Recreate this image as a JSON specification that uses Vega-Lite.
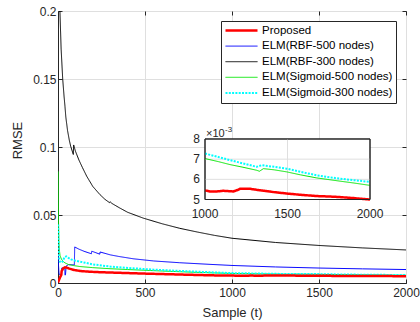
{
  "$schema": "https://vega.github.io/schema/vega-lite/v6.json",
  "width": 348,
  "height": 272,
  "autosize": {"type": "none"},
  "padding": {"left": 58, "top": 11, "right": 14, "bottom": 39},
  "background": "white",
  "config": {
    "view": {"stroke": "#262626", "strokeWidth": 1},
    "font": "Liberation Sans",
    "axis": {
      "labelFont": "Liberation Sans",
      "titleFont": "Liberation Sans",
      "labelColor": "#262626",
      "titleColor": "#262626",
      "tickColor": "#262626",
      "domainColor": "#262626",
      "gridColor": "#dfdfdf",
      "labelFontSize": 12,
      "titleFontSize": 13,
      "titleFontWeight": "normal",
      "labelFlush": false,
      "labelOverlap": false
    },
    "legend": {
      "labelFont": "Liberation Sans",
      "labelFontSize": 11.5,
      "labelColor": "#000000"
    }
  },
  "datasets": {
    "rmse": [
      {"s": "ELM(RBF-300 nodes)", "t": 1, "v": 0.42},
      {"s": "ELM(RBF-300 nodes)", "t": 4, "v": 0.29},
      {"s": "ELM(RBF-300 nodes)", "t": 8, "v": 0.225},
      {"s": "ELM(RBF-300 nodes)", "t": 11, "v": 0.2},
      {"s": "ELM(RBF-300 nodes)", "t": 18, "v": 0.172},
      {"s": "ELM(RBF-300 nodes)", "t": 27, "v": 0.15},
      {"s": "ELM(RBF-300 nodes)", "t": 35, "v": 0.137},
      {"s": "ELM(RBF-300 nodes)", "t": 40, "v": 0.13},
      {"s": "ELM(RBF-300 nodes)", "t": 45, "v": 0.122},
      {"s": "ELM(RBF-300 nodes)", "t": 55, "v": 0.112},
      {"s": "ELM(RBF-300 nodes)", "t": 65, "v": 0.105},
      {"s": "ELM(RBF-300 nodes)", "t": 73, "v": 0.1005},
      {"s": "ELM(RBF-300 nodes)", "t": 88, "v": 0.0945},
      {"s": "ELM(RBF-300 nodes)", "t": 90, "v": 0.1015},
      {"s": "ELM(RBF-300 nodes)", "t": 100, "v": 0.097},
      {"s": "ELM(RBF-300 nodes)", "t": 120, "v": 0.0905},
      {"s": "ELM(RBF-300 nodes)", "t": 140, "v": 0.085},
      {"s": "ELM(RBF-300 nodes)", "t": 165, "v": 0.0785},
      {"s": "ELM(RBF-300 nodes)", "t": 200, "v": 0.071},
      {"s": "ELM(RBF-300 nodes)", "t": 241, "v": 0.065},
      {"s": "ELM(RBF-300 nodes)", "t": 270, "v": 0.0615},
      {"s": "ELM(RBF-300 nodes)", "t": 297, "v": 0.059},
      {"s": "ELM(RBF-300 nodes)", "t": 300, "v": 0.0597},
      {"s": "ELM(RBF-300 nodes)", "t": 310, "v": 0.0585},
      {"s": "ELM(RBF-300 nodes)", "t": 350, "v": 0.0555},
      {"s": "ELM(RBF-300 nodes)", "t": 400, "v": 0.052},
      {"s": "ELM(RBF-300 nodes)", "t": 490, "v": 0.0477},
      {"s": "ELM(RBF-300 nodes)", "t": 600, "v": 0.0435},
      {"s": "ELM(RBF-300 nodes)", "t": 700, "v": 0.0402},
      {"s": "ELM(RBF-300 nodes)", "t": 800, "v": 0.0375},
      {"s": "ELM(RBF-300 nodes)", "t": 900, "v": 0.035},
      {"s": "ELM(RBF-300 nodes)", "t": 1000, "v": 0.0329},
      {"s": "ELM(RBF-300 nodes)", "t": 1250, "v": 0.0298},
      {"s": "ELM(RBF-300 nodes)", "t": 1500, "v": 0.0276},
      {"s": "ELM(RBF-300 nodes)", "t": 1750, "v": 0.0258},
      {"s": "ELM(RBF-300 nodes)", "t": 2000, "v": 0.0243},

      {"s": "ELM(RBF-500 nodes)", "t": 1, "v": 0.021},
      {"s": "ELM(RBF-500 nodes)", "t": 3, "v": 0.013},
      {"s": "ELM(RBF-500 nodes)", "t": 6, "v": 0.0065},
      {"s": "ELM(RBF-500 nodes)", "t": 20, "v": 0.0058},
      {"s": "ELM(RBF-500 nodes)", "t": 21, "v": 0.011},
      {"s": "ELM(RBF-500 nodes)", "t": 39, "v": 0.011},
      {"s": "ELM(RBF-500 nodes)", "t": 40, "v": 0.0058},
      {"s": "ELM(RBF-500 nodes)", "t": 43, "v": 0.006},
      {"s": "ELM(RBF-500 nodes)", "t": 47, "v": 0.0125},
      {"s": "ELM(RBF-500 nodes)", "t": 60, "v": 0.0135},
      {"s": "ELM(RBF-500 nodes)", "t": 80, "v": 0.0134},
      {"s": "ELM(RBF-500 nodes)", "t": 94, "v": 0.0133},
      {"s": "ELM(RBF-500 nodes)", "t": 96, "v": 0.0265},
      {"s": "ELM(RBF-500 nodes)", "t": 120, "v": 0.0249},
      {"s": "ELM(RBF-500 nodes)", "t": 150, "v": 0.0233},
      {"s": "ELM(RBF-500 nodes)", "t": 192, "v": 0.0215},
      {"s": "ELM(RBF-500 nodes)", "t": 194, "v": 0.0234},
      {"s": "ELM(RBF-500 nodes)", "t": 240, "v": 0.0212},
      {"s": "ELM(RBF-500 nodes)", "t": 242, "v": 0.0228},
      {"s": "ELM(RBF-500 nodes)", "t": 300, "v": 0.0207},
      {"s": "ELM(RBF-500 nodes)", "t": 350, "v": 0.0195},
      {"s": "ELM(RBF-500 nodes)", "t": 433, "v": 0.0178},
      {"s": "ELM(RBF-500 nodes)", "t": 550, "v": 0.0162},
      {"s": "ELM(RBF-500 nodes)", "t": 700, "v": 0.0149},
      {"s": "ELM(RBF-500 nodes)", "t": 874, "v": 0.0137},
      {"s": "ELM(RBF-500 nodes)", "t": 1000, "v": 0.0129},
      {"s": "ELM(RBF-500 nodes)", "t": 1250, "v": 0.0118},
      {"s": "ELM(RBF-500 nodes)", "t": 1500, "v": 0.011},
      {"s": "ELM(RBF-500 nodes)", "t": 1750, "v": 0.0104},
      {"s": "ELM(RBF-500 nodes)", "t": 2000, "v": 0.0099},

      {"s": "ELM(Sigmoid-500 nodes)", "t": 1, "v": 0.082},
      {"s": "ELM(Sigmoid-500 nodes)", "t": 2, "v": 0.06},
      {"s": "ELM(Sigmoid-500 nodes)", "t": 3, "v": 0.045},
      {"s": "ELM(Sigmoid-500 nodes)", "t": 5, "v": 0.031},
      {"s": "ELM(Sigmoid-500 nodes)", "t": 8, "v": 0.024},
      {"s": "ELM(Sigmoid-500 nodes)", "t": 12, "v": 0.02},
      {"s": "ELM(Sigmoid-500 nodes)", "t": 20, "v": 0.0175},
      {"s": "ELM(Sigmoid-500 nodes)", "t": 30, "v": 0.0158},
      {"s": "ELM(Sigmoid-500 nodes)", "t": 40, "v": 0.0148},
      {"s": "ELM(Sigmoid-500 nodes)", "t": 60, "v": 0.0136},
      {"s": "ELM(Sigmoid-500 nodes)", "t": 90, "v": 0.0128},
      {"s": "ELM(Sigmoid-500 nodes)", "t": 126, "v": 0.0121},
      {"s": "ELM(Sigmoid-500 nodes)", "t": 200, "v": 0.0113},
      {"s": "ELM(Sigmoid-500 nodes)", "t": 300, "v": 0.0105},
      {"s": "ELM(Sigmoid-500 nodes)", "t": 400, "v": 0.0099},
      {"s": "ELM(Sigmoid-500 nodes)", "t": 490, "v": 0.0094},
      {"s": "ELM(Sigmoid-500 nodes)", "t": 600, "v": 0.0088},
      {"s": "ELM(Sigmoid-500 nodes)", "t": 700, "v": 0.0083},
      {"s": "ELM(Sigmoid-500 nodes)", "t": 800, "v": 0.0078},
      {"s": "ELM(Sigmoid-500 nodes)", "t": 900, "v": 0.0074},
      {"s": "ELM(Sigmoid-500 nodes)", "t": 1000, "v": 0.00703},
      {"s": "ELM(Sigmoid-500 nodes)", "t": 1080, "v": 0.00688},
      {"s": "ELM(Sigmoid-500 nodes)", "t": 1152, "v": 0.00673},
      {"s": "ELM(Sigmoid-500 nodes)", "t": 1230, "v": 0.0066},
      {"s": "ELM(Sigmoid-500 nodes)", "t": 1313, "v": 0.00645},
      {"s": "ELM(Sigmoid-500 nodes)", "t": 1330, "v": 0.0064},
      {"s": "ELM(Sigmoid-500 nodes)", "t": 1354, "v": 0.00653},
      {"s": "ELM(Sigmoid-500 nodes)", "t": 1420, "v": 0.00647},
      {"s": "ELM(Sigmoid-500 nodes)", "t": 1495, "v": 0.00637},
      {"s": "ELM(Sigmoid-500 nodes)", "t": 1580, "v": 0.00622},
      {"s": "ELM(Sigmoid-500 nodes)", "t": 1677, "v": 0.00607},
      {"s": "ELM(Sigmoid-500 nodes)", "t": 1800, "v": 0.00593},
      {"s": "ELM(Sigmoid-500 nodes)", "t": 1900, "v": 0.00582},
      {"s": "ELM(Sigmoid-500 nodes)", "t": 2000, "v": 0.0057},

      {"s": "ELM(Sigmoid-300 nodes)", "t": 1, "v": 0.043},
      {"s": "ELM(Sigmoid-300 nodes)", "t": 2, "v": 0.033},
      {"s": "ELM(Sigmoid-300 nodes)", "t": 3, "v": 0.026},
      {"s": "ELM(Sigmoid-300 nodes)", "t": 5, "v": 0.02},
      {"s": "ELM(Sigmoid-300 nodes)", "t": 8, "v": 0.0165},
      {"s": "ELM(Sigmoid-300 nodes)", "t": 12, "v": 0.0155},
      {"s": "ELM(Sigmoid-300 nodes)", "t": 20, "v": 0.015},
      {"s": "ELM(Sigmoid-300 nodes)", "t": 28, "v": 0.016},
      {"s": "ELM(Sigmoid-300 nodes)", "t": 37, "v": 0.019},
      {"s": "ELM(Sigmoid-300 nodes)", "t": 48, "v": 0.0196},
      {"s": "ELM(Sigmoid-300 nodes)", "t": 60, "v": 0.0185},
      {"s": "ELM(Sigmoid-300 nodes)", "t": 75, "v": 0.0174},
      {"s": "ELM(Sigmoid-300 nodes)", "t": 100, "v": 0.0164},
      {"s": "ELM(Sigmoid-300 nodes)", "t": 126, "v": 0.0157},
      {"s": "ELM(Sigmoid-300 nodes)", "t": 200, "v": 0.0137},
      {"s": "ELM(Sigmoid-300 nodes)", "t": 300, "v": 0.0121},
      {"s": "ELM(Sigmoid-300 nodes)", "t": 433, "v": 0.0108},
      {"s": "ELM(Sigmoid-300 nodes)", "t": 550, "v": 0.0098},
      {"s": "ELM(Sigmoid-300 nodes)", "t": 700, "v": 0.0089},
      {"s": "ELM(Sigmoid-300 nodes)", "t": 874, "v": 0.0079},
      {"s": "ELM(Sigmoid-300 nodes)", "t": 1000, "v": 0.00728},
      {"s": "ELM(Sigmoid-300 nodes)", "t": 1080, "v": 0.00711},
      {"s": "ELM(Sigmoid-300 nodes)", "t": 1152, "v": 0.00695},
      {"s": "ELM(Sigmoid-300 nodes)", "t": 1230, "v": 0.00679},
      {"s": "ELM(Sigmoid-300 nodes)", "t": 1313, "v": 0.00662},
      {"s": "ELM(Sigmoid-300 nodes)", "t": 1343, "v": 0.0067},
      {"s": "ELM(Sigmoid-300 nodes)", "t": 1420, "v": 0.00662},
      {"s": "ELM(Sigmoid-300 nodes)", "t": 1495, "v": 0.00653},
      {"s": "ELM(Sigmoid-300 nodes)", "t": 1580, "v": 0.00637},
      {"s": "ELM(Sigmoid-300 nodes)", "t": 1677, "v": 0.0062},
      {"s": "ELM(Sigmoid-300 nodes)", "t": 1800, "v": 0.00605},
      {"s": "ELM(Sigmoid-300 nodes)", "t": 1900, "v": 0.00596},
      {"s": "ELM(Sigmoid-300 nodes)", "t": 2000, "v": 0.00587},

      {"s": "Proposed", "t": 0, "v": 0.0003},
      {"s": "Proposed", "t": 5, "v": 0.002},
      {"s": "Proposed", "t": 12, "v": 0.0042},
      {"s": "Proposed", "t": 19, "v": 0.006},
      {"s": "Proposed", "t": 21, "v": 0.0088},
      {"s": "Proposed", "t": 30, "v": 0.0108},
      {"s": "Proposed", "t": 40, "v": 0.0116},
      {"s": "Proposed", "t": 50, "v": 0.0113},
      {"s": "Proposed", "t": 65, "v": 0.0106},
      {"s": "Proposed", "t": 80, "v": 0.01},
      {"s": "Proposed", "t": 100, "v": 0.0094},
      {"s": "Proposed", "t": 130, "v": 0.0088},
      {"s": "Proposed", "t": 180, "v": 0.0083},
      {"s": "Proposed", "t": 250, "v": 0.0079},
      {"s": "Proposed", "t": 350, "v": 0.0075},
      {"s": "Proposed", "t": 500, "v": 0.0069},
      {"s": "Proposed", "t": 650, "v": 0.0064},
      {"s": "Proposed", "t": 800, "v": 0.0059},
      {"s": "Proposed", "t": 900, "v": 0.0056},
      {"s": "Proposed", "t": 1000, "v": 0.00545},
      {"s": "Proposed", "t": 1030, "v": 0.0054},
      {"s": "Proposed", "t": 1070, "v": 0.0054},
      {"s": "Proposed", "t": 1111, "v": 0.00543},
      {"s": "Proposed", "t": 1172, "v": 0.0054},
      {"s": "Proposed", "t": 1200, "v": 0.00548},
      {"s": "Proposed", "t": 1212, "v": 0.00553},
      {"s": "Proposed", "t": 1273, "v": 0.00553},
      {"s": "Proposed", "t": 1313, "v": 0.00548},
      {"s": "Proposed", "t": 1360, "v": 0.00543},
      {"s": "Proposed", "t": 1414, "v": 0.00537},
      {"s": "Proposed", "t": 1515, "v": 0.00528},
      {"s": "Proposed", "t": 1600, "v": 0.00522},
      {"s": "Proposed", "t": 1677, "v": 0.00517},
      {"s": "Proposed", "t": 1750, "v": 0.00515},
      {"s": "Proposed", "t": 1818, "v": 0.00512},
      {"s": "Proposed", "t": 1900, "v": 0.00507},
      {"s": "Proposed", "t": 2000, "v": 0.005}
    ],
    "one": [{}],
    "insetXLabels": [
      {"t": 1000, "label": "1000"},
      {"t": 1500, "label": "1500"},
      {"t": 2000, "label": "2000"}
    ],
    "insetYLabels": [
      {"v": 0.005, "label": "5"},
      {"v": 0.006, "label": "6"},
      {"v": 0.007, "label": "7"},
      {"v": 0.008, "label": "8"}
    ]
  },
  "layer": [
    {
      "data": {"name": "rmse"},
      "resolve": {"axis": {"x": "independent", "y": "independent"}},
      "layer": [
        {
          "mark": {"type": "line", "clip": true},
          "encoding": {
            "x": {
              "field": "t", "type": "quantitative",
              "scale": {"domain": [0, 2000], "nice": false, "zero": false},
              "axis": {
                "orient": "bottom", "values": [0, 500, 1000, 1500, 2000], "format": "d",
                "grid": true, "tickSize": -4, "labelPadding": 8,
                "title": "Sample (t)", "titlePadding": 8
              }
            },
            "y": {
              "field": "v", "type": "quantitative",
              "scale": {"domain": [0, 0.2], "nice": false, "zero": false},
              "axis": {
                "orient": "left", "values": [0, 0.05, 0.1, 0.15, 0.2], "format": ".2~f",
                "grid": true, "tickSize": -4, "labelPadding": 6,
                "title": "RMSE", "titlePadding": 8, "titleY": 129
              }
            },
            "color": {
              "field": "s", "type": "nominal",
              "scale": {
                "domain": ["Proposed", "ELM(RBF-500 nodes)", "ELM(RBF-300 nodes)", "ELM(Sigmoid-500 nodes)", "ELM(Sigmoid-300 nodes)"],
                "range": ["#ff0000", "#0000ff", "#000000", "#00e600", "#00ffff"]
              },
              "legend": {
                "title": null, "orient": "top-right", "offset": 10,
                "strokeColor": "#262626", "fillColor": "white",
                "padding": 3, "symbolType": "stroke", "symbolSize": 1024,
                "clipHeight": 13, "rowPadding": 2.6, "labelOffset": 3,
                "labelLimit": 160
              }
            },
            "strokeDash": {
              "field": "s", "type": "nominal",
              "scale": {
                "domain": ["Proposed", "ELM(RBF-500 nodes)", "ELM(RBF-300 nodes)", "ELM(Sigmoid-500 nodes)", "ELM(Sigmoid-300 nodes)"],
                "range": [[1, 0], [1, 0], [1, 0], [1, 0], [2, 1.3]]
              }
            },
            "strokeWidth": {
              "field": "s", "type": "ordinal",
              "scale": {
                "type": "ordinal",
                "domain": ["Proposed", "ELM(RBF-500 nodes)", "ELM(RBF-300 nodes)", "ELM(Sigmoid-500 nodes)", "ELM(Sigmoid-300 nodes)"],
                "range": [2.5, 1, 1, 1, 2]
              }
            }
          }
        },
        {
          "mark": {"type": "line", "opacity": 0},
          "encoding": {
            "x": {
              "field": "t", "type": "quantitative",
              "axis": {"orient": "top", "values": [0, 500, 1000, 1500, 2000], "labels": false, "title": null, "grid": false, "tickSize": -4, "domain": false}
            },
            "y": {
              "field": "v", "type": "quantitative",
              "axis": {"orient": "right", "values": [0, 0.05, 0.1, 0.15, 0.2], "labels": false, "title": null, "grid": false, "tickSize": -4, "domain": false}
            }
          }
        }
      ]
    },
    {
      "resolve": {"scale": {"color": "independent", "strokeDash": "independent", "strokeWidth": "independent"}},
      "layer": [
        {
          "data": {"name": "one"},
          "mark": {"type": "rect", "fill": "white", "stroke": "#262626", "strokeWidth": 1},
          "encoding": {
            "x": {"datum": 1000, "type": "quantitative", "scale": {"domain": [109.09, 2218.18], "nice": false, "zero": false}, "axis": null},
            "x2": {"datum": 2000},
            "y": {"datum": 0.005, "type": "quantitative", "scale": {"domain": [0.00086, 0.014346], "nice": false, "zero": false}, "axis": null},
            "y2": {"datum": 0.008}
          }
        },
        {
          "data": {"name": "one"},
          "mark": {"type": "rule", "color": "#dfdfdf", "strokeWidth": 1},
          "encoding": {
            "x": {"datum": 1500, "type": "quantitative", "axis": null},
            "y": {"datum": 0.005, "type": "quantitative", "axis": null},
            "y2": {"datum": 0.008}
          }
        },
        {
          "data": {"name": "one"},
          "mark": {"type": "rule", "color": "#dfdfdf", "strokeWidth": 1},
          "encoding": {
            "x": {"datum": 1000, "type": "quantitative", "axis": null},
            "x2": {"datum": 2000},
            "y": {"datum": 0.006, "type": "quantitative", "axis": null}
          }
        },
        {
          "data": {"name": "one"},
          "mark": {"type": "rule", "color": "#dfdfdf", "strokeWidth": 1},
          "encoding": {
            "x": {"datum": 1000, "type": "quantitative", "axis": null},
            "x2": {"datum": 2000},
            "y": {"datum": 0.007, "type": "quantitative", "axis": null}
          }
        },
        {
          "data": {"name": "rmse"},
          "transform": [
            {"filter": {"field": "t", "gte": 1000}},
            {"filter": {"field": "s", "oneOf": ["Proposed", "ELM(Sigmoid-500 nodes)", "ELM(Sigmoid-300 nodes)"]}}
          ],
          "mark": {"type": "line"},
          "encoding": {
            "x": {"field": "t", "type": "quantitative", "axis": null},
            "y": {"field": "v", "type": "quantitative", "axis": null},
            "color": {
              "field": "s", "type": "nominal", "legend": null,
              "scale": {
                "domain": ["Proposed", "ELM(Sigmoid-500 nodes)", "ELM(Sigmoid-300 nodes)"],
                "range": ["#ff0000", "#00e600", "#00ffff"]
              }
            },
            "strokeDash": {
              "field": "s", "type": "nominal", "legend": null,
              "scale": {
                "domain": ["Proposed", "ELM(Sigmoid-500 nodes)", "ELM(Sigmoid-300 nodes)"],
                "range": [[1, 0], [1, 0], [2, 1.3]]
              }
            },
            "strokeWidth": {
              "field": "s", "type": "ordinal", "legend": null,
              "scale": {
                "type": "ordinal",
                "domain": ["Proposed", "ELM(Sigmoid-500 nodes)", "ELM(Sigmoid-300 nodes)"],
                "range": [2.5, 1, 2]
              }
            }
          }
        },
        {
          "data": {"name": "one"},
          "mark": {"type": "rect", "fill": null, "stroke": "#262626", "strokeWidth": 1},
          "encoding": {
            "x": {"datum": 1000, "type": "quantitative", "axis": null},
            "x2": {"datum": 2000},
            "y": {"datum": 0.005, "type": "quantitative", "axis": null},
            "y2": {"datum": 0.008}
          }
        },
        {
          "data": {"name": "insetXLabels"},
          "mark": {"type": "text", "baseline": "top", "align": "center", "dy": 9, "fontSize": 12, "font": "Liberation Sans", "color": "#262626"},
          "encoding": {
            "x": {"field": "t", "type": "quantitative", "axis": null},
            "y": {"datum": 0.005, "type": "quantitative", "axis": null},
            "text": {"field": "label"}
          }
        },
        {
          "data": {"name": "insetYLabels"},
          "mark": {"type": "text", "baseline": "middle", "align": "right", "dx": -5, "fontSize": 12, "font": "Liberation Sans", "color": "#262626"},
          "encoding": {
            "x": {"datum": 1000, "type": "quantitative", "axis": null},
            "y": {"field": "v", "type": "quantitative", "axis": null},
            "text": {"field": "label"}
          }
        },
        {
          "data": {"name": "one"},
          "mark": {"type": "text", "baseline": "alphabetic", "align": "left", "dx": 1, "dy": -2, "fontSize": 11, "font": "Liberation Sans", "color": "#262626"},
          "encoding": {
            "x": {"datum": 1000, "type": "quantitative", "axis": null},
            "y": {"datum": 0.008, "type": "quantitative", "axis": null},
            "text": {"value": "×10"}
          }
        },
        {
          "data": {"name": "one"},
          "mark": {"type": "text", "baseline": "alphabetic", "align": "left", "dx": 20, "dy": -7, "fontSize": 8, "font": "Liberation Sans", "color": "#262626"},
          "encoding": {
            "x": {"datum": 1000, "type": "quantitative", "axis": null},
            "y": {"datum": 0.008, "type": "quantitative", "axis": null},
            "text": {"value": "-3"}
          }
        }
      ]
    }
  ],
  "resolve": {"scale": {"x": "independent", "y": "independent"}}
}
